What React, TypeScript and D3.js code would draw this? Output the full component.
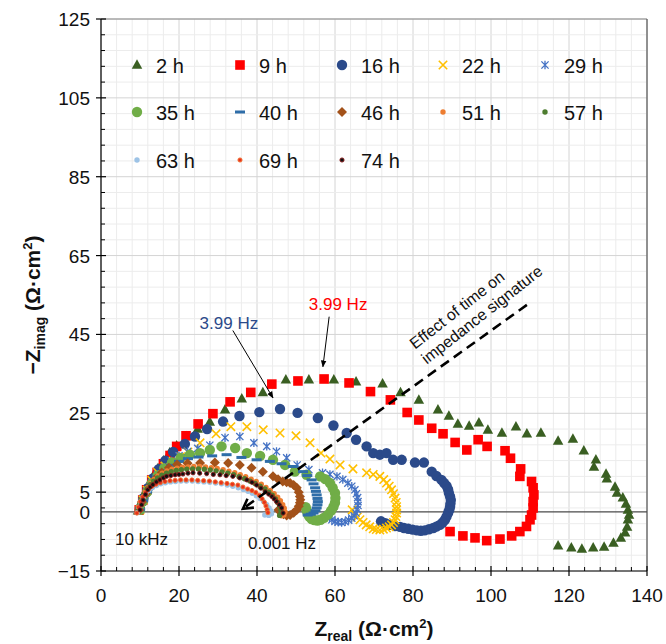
import React from "react";
import * as d3 from "d3";

type Pt = [number, number];

const xTickValues = [0, 20, 40, 60, 80, 100, 120, 140];
const yTickValues = [125, 105, 85, 65, 45, 25, 5, -15];
const yExtraTicks = [0];

const seriesNames = ["2 h", "9 h", "16 h", "22 h", "29 h", "35 h", "40 h", "46 h", "51 h", "57 h", "63 h", "69 h", "74 h"];
const seriesColors = ["#3A5F22", "#FF0000", "#2B4A8A", "#FFC000", "#4472C4", "#70AD47", "#2E6DA8", "#A3521A", "#ED7D31", "#4E7D30", "#9DC3E6", "#E8321A", "#111111"];
const seriesRings = ["", "", "", "", "", "", "", "", "", "", "", "#F07030", "#8B1A1A"];
const seriesShapes = ["triangle", "square", "circle", "cross", "star", "circle", "dash", "diamond", "dot", "dot", "dot", "ring", "ring"];

const s2h: Pt[] = [[9.5,0.3],[10.3,2.5],[11.2,4.8],[12.2,7],[13.3,9],[14.6,11],[16,13],[17.6,15],[19.4,16.8],[22,19.1],[24.8,21],[27.9,22.8],[31.8,25.9],[36.1,28.7],[41.5,30.3],[47.4,33.5],[53.3,33.5],[59.7,33.5],[65.4,33],[72.2,32.5],[76.8,30.3],[81.5,28.4],[86.4,25.9],[89.2,24.3],[91.5,22.3],[94.4,21.8],[96.9,22.6],[99.2,20.8],[102.8,20],[106.4,21.6],[109.2,19.8],[112.8,20],[117.2,18],[121,18.5],[123.8,15.5],[126.9,13.2],[126.4,11.4],[129.5,9.6],[129.7,8.4],[131.8,6.3],[132.3,4.8],[133.8,3.6],[134.6,2],[135.1,0.5],[135.4,-0.8],[135.1,-2],[134.9,-3.8],[134.4,-5.3],[133.3,-6.6],[131.4,-7.9],[129,-8.9],[126.2,-9.1],[123.3,-9.4],[120.6,-9.1],[117.2,-8.6]];
const s9h: Pt[] = [[9.8,0.5],[10.7,3],[11.7,5.6],[13,8.1],[14.4,10],[16,12.2],[17.7,14.3],[19.4,16.6],[21.8,19.3],[24.9,22.3],[28.7,24.9],[33.1,27.9],[38.4,30.3],[43.8,32.4],[50.5,33.2],[57.2,33.7],[63.6,32.7],[69.1,30.5],[74.2,28.4],[78.5,25.2],[81.5,23.3],[84.8,21.2],[87.7,19.8],[90.8,17.6],[93.8,15.7],[96.7,18.3],[99,16.6],[103.6,15.5],[105,13.6],[107.6,10.9],[107.4,9],[110.4,7.7],[110.8,6.1],[111,4.3],[110.8,2.6],[110.8,1],[110.4,-0.8],[110,-2],[109.1,-3.7],[107.4,-5],[105.3,-6.1],[102.3,-6.9],[98.9,-7.3],[95.9,-6.6],[92.8,-6.1],[89.5,-5]];
const s16h: Pt[] = [[10,0.8],[10.9,3.5],[12,6],[13.3,8.5],[14.8,10.8],[16.5,13],[18.5,15.2],[21.5,17.2],[24.1,19.1],[27.2,21],[31.3,22.9],[35.5,24.3],[40.6,25.3],[45.9,26.1],[50.4,25.1],[55.6,23.8],[59.6,21.9],[63,20],[65.4,18.3],[68.1,16.6],[69.8,14.9],[71.5,14.5],[73.2,14.9],[74.9,13.2],[77.1,13.2],[80.5,12.5],[82.8,12.5],[84.8,10.2],[86,9.1],[87.3,8.1],[88,7.3],[88.6,6.6],[89,5.7],[89.2,4.8],[89.5,3.9],[89.7,3],[89.6,2.1],[89.5,1.3],[89.3,0.5],[89,-0.3],[88.6,-1.2],[88.2,-2],[87.6,-2.7],[86.9,-3.3],[86.1,-3.7],[85.2,-4.1],[84.1,-4.4],[83,-4.7],[82,-4.8],[81,-4.7],[79.9,-4.5],[78.8,-4.3],[77.7,-4.1],[76.7,-3.8],[75.4,-3.6],[74.1,-3.3],[72.9,-2.9],[71.8,-2.4]];
const s22h: Pt[] = [[10,0.5],[10.8,3],[11.8,5.5],[13,8],[14.5,10],[16.4,11.6],[18.5,12.8],[20.4,14],[22.3,15.2],[25.4,17.5],[29.5,19.8],[33.3,21.6],[37.4,21.6],[41.6,20.8],[45.9,20],[50,19.3],[53.6,17.5],[56.4,14.9],[58.7,13.4],[61.3,11.9],[64.6,10.9],[68.1,9.9],[69.8,9.5],[71.5,9],[72.5,8.2],[73.2,7.3],[73.9,6.5],[74.5,5.6],[75,4.6],[75.4,3.5],[75.7,2.4],[75.8,1.3],[75.8,0.5],[75.8,-0.3],[75.6,-1.2],[75.4,-2],[75,-2.7],[74.5,-3.3],[73.9,-3.8],[73.2,-4.1],[72.4,-4.4],[71.5,-4.6],[70.6,-4.5],[69.8,-4.3],[68.9,-3.8],[68,-3.3],[67.2,-2.7],[66.4,-2],[65.7,-1.3],[65,-0.6],[64.4,0.5]];
const s29h: Pt[] = [[10,0.5],[10.8,2.8],[11.8,5.2],[13,7.4],[14.5,9.5],[16.2,11.3],[18,12.9],[20,14.2],[22.2,15.3],[24.8,16.1],[27.9,16.9],[31.8,18.8],[35.6,19.1],[39.2,17.5],[42.5,16.6],[45,15.3],[47.6,13.7],[50.3,11.9],[53.3,10.7],[56.8,9.9],[58.7,9.5],[60.5,9],[62,8.2],[63.3,7.3],[64.3,6.5],[65.1,5.6],[65.5,4.6],[65.8,3.6],[65.9,2.6],[65.9,1.6],[65.7,0.6],[65.4,-0.3],[64.9,-1],[64.3,-1.6],[63.5,-2.1],[62.6,-2.5],[61.7,-2.7],[60.8,-2.6],[60,-2.4],[59.2,-2],[58.6,-1.5],[58,-1]];
const s35h: Pt[] = [[10,0.5],[10.8,2.8],[11.8,5],[13,7.2],[14.5,9.2],[16.2,11],[18.2,12.5],[20.4,13.7],[22.8,14.5],[25.4,14.9],[27.9,15.7],[30.9,16.6],[34.4,16.2],[37.4,14.9],[40.8,14.2],[44.1,13.2],[47.2,11.9],[49.7,10.2],[52.7,9.4],[56.2,9],[57.5,8.3],[58.7,7.3],[59.4,6.1],[60,4.8],[60.1,3.5],[60,2.3],[59.6,1.3],[59,0.3],[58.2,-0.7],[57.2,-1.5],[56.3,-2],[55.5,-2.2],[54.7,-2.1],[54,-1.8],[53.4,-1.2],[53,-0.5],[52.7,0.4],[52.5,1.2]];
const s40h: Pt[] = [[10,0.5],[10.8,2.8],[11.8,5],[13,7],[14.5,8.9],[16.2,10.5],[18,11.8],[20,12.8],[22.3,13.5],[25,13.9],[28.5,14.2],[32.2,14.5],[36,13.8],[39.9,13.2],[43.3,12.8],[46.3,12.2],[49.2,11.5],[51.8,10.2],[52.9,9.2],[54,8.1],[54.5,7.1],[54.9,6.1],[55.1,5.2],[55.3,4.3],[55.5,3.4],[55.6,2.6],[55.5,1.8],[55.3,1],[55,0.3],[54.5,-0.3],[53.8,-0.6],[53,-0.8]];
const s46h: Pt[] = [[9.8,0.5],[10.5,2.5],[11.5,4.6],[12.7,6.6],[14,8.4],[15.6,10],[17.4,11.2],[19.5,12],[22.2,12.3],[25.4,12.4],[29.2,12.5],[32.6,12.4],[35.6,11.9],[38.6,11.2],[41.5,10.2],[44.1,9],[45.4,8.3],[46.6,7.7],[47.6,7.5],[48.5,7.3],[49.4,6.8],[50.2,6.1],[50.7,5],[51,3.9],[51.1,3.1],[51,2.3],[50.7,1.4],[50.2,0.5],[49.4,-0.2],[48.5,-0.8],[47.6,-0.9],[46.8,-0.6],[46.1,-0.1],[45.5,0.5]];
const s51h: Pt[] = [[9.7,0.5],[10.1,2],[10.6,3.5],[11.2,4.9],[11.9,6.1],[12.7,7.2],[13.6,8.2],[14.6,9.1],[15.7,9.8],[16.9,10.4],[18.2,10.8],[19.5,11.1],[20.9,11.3],[22.3,11.4],[23.8,11.5],[25.3,11.5],[26.8,11.4],[28.3,11.2],[29.8,11],[31.3,10.7],[32.8,10.3],[34.3,9.9],[35.7,9.4],[37.1,8.9],[38.5,8.3],[39.8,7.7],[41.1,7],[42.3,6.2],[43.4,5.4],[44.4,4.6],[45.3,3.7],[46,2.8],[46.6,1.8],[47,0.9],[47.2,0],[46.9,-0.8],[46.2,-1]];
const s57h: Pt[] = [[9.6,0.4],[10,1.9],[10.5,3.3],[11.1,4.6],[11.8,5.8],[12.6,6.9],[13.5,7.8],[14.5,8.6],[15.6,9.3],[16.8,9.8],[18,10.2],[19.3,10.5],[20.6,10.7],[22,10.8],[23.5,10.9],[25,10.9],[26.5,10.8],[28,10.6],[29.5,10.4],[31,10.1],[32.5,9.8],[34,9.4],[35.4,8.9],[36.8,8.4],[38.2,7.8],[39.5,7.2],[40.8,6.5],[42,5.8],[43,5],[43.9,4.2],[44.7,3.3],[45.3,2.4],[45.8,1.5],[46.1,0.6],[46.2,-0.3],[45.8,-0.9]];
const s63h: Pt[] = [[9.3,-0.2],[9.7,1.2],[10.2,2.5],[10.8,3.7],[11.5,4.7],[12.3,5.5],[13.2,6.2],[14.2,6.7],[15.3,7.1],[16.5,7.4],[17.8,7.6],[19.1,7.7],[20.5,7.8],[21.9,7.8],[23.4,7.8],[24.9,7.7],[26.4,7.6],[27.9,7.5],[29.4,7.3],[30.9,7.1],[32.4,6.8],[33.8,6.5],[35.2,6.1],[36.5,5.7],[37.7,5.2],[38.8,4.7],[39.8,4.1],[40.8,3.4],[41.7,2.6],[42.5,1.8],[43.1,1],[43.6,0.2],[43.7,-0.5],[43,-0.9],[42,-0.8]];
const s69h: Pt[] = [[9.2,-0.3],[9.6,1.2],[10.1,2.6],[10.7,3.8],[11.4,4.9],[12.2,5.8],[13.1,6.5],[14.1,7],[15.2,7.4],[16.4,7.7],[17.7,7.9],[19,8],[20.4,8.1],[21.8,8.1],[23.3,8.1],[24.8,8],[26.3,7.9],[27.8,7.8],[29.3,7.6],[30.8,7.4],[32.3,7.2],[33.7,7],[35.1,6.8],[36.4,6.3],[37.6,5.8],[38.7,5.4],[39.7,4.9],[40.6,4.2],[41.3,3.3],[41.9,2.4],[42.3,1.5],[42.6,0.6],[42.8,-0.2]];
const s74h: Pt[] = [[10,0.5],[10.4,1.8],[10.8,3],[11.4,4.4],[12,5.6],[12.6,6.3],[13.3,6.9],[14.2,7.6],[15.1,8.1],[16,8.6],[16.8,9],[17.9,9.2],[19,9.4],[20,9.5],[21,9.6],[22.3,9.8],[23.6,9.9],[25.3,9.8],[27.1,9.7],[28.8,9.5],[30.5,9.4],[32.1,9.2],[33.8,9],[35.6,8.6],[37.4,8.1],[38.7,7.5],[39.9,6.8],[41,6],[42.1,5.1],[43,4.5],[43.8,3.9],[44.4,3.3],[45,2.6],[45.7,1.8],[46.3,1],[46.7,-0.3]];

const seriesData: Pt[][] = [s2h, s9h, s16h, s22h, s29h, s35h, s40h, s46h, s51h, s57h, s63h, s69h, s74h];

// annotation anchors (data units)
const blueLabelPos: Pt = [32.8, 46.3];
const blueArrow: Pt[] = [[33.8, 46.0], [44.1, 28.9]];
const redLabelPos: Pt = [60.8, 51.2];
const redArrow: Pt[] = [[58.5, 49.5], [56.9, 36.8]];
const trendArrow: Pt[] = [[109.2, 52.5], [36.4, 0.8]];
const trendTextPos: Pt = [80.5, 41.1];
const trendTextLines = ["Effect of time on", "impedance signature"];
const freqLabels = [
  { text: "10 kHz", pos: [3.6, -8.5] as Pt },
  { text: "0.001 Hz", pos: [37.7, -9.3] as Pt },
];

const W = 666, H = 644;
const L = 101, R = 647, T = 19, B = 571;
const FONT = "'Liberation Sans', Arial, Helvetica, sans-serif";

function Marker({ shape, color, ring, cx, cy }: { shape: string; color: string; ring: string; cx: number; cy: number }) {
  switch (shape) {
    case "triangle": {
      const s = 10.5, h = 9.5;
      return <path d={`M${cx},${cy - h * 0.6}L${cx + s / 2},${cy + h * 0.4}L${cx - s / 2},${cy + h * 0.4}Z`} fill={color} />;
    }
    case "square":
      return <rect x={cx - 4.8} y={cy - 4.8} width={9.6} height={9.6} fill={color} />;
    case "circle":
      return <circle cx={cx} cy={cy} r={5.2} fill={color} />;
    case "cross":
      return <path d={`M${cx - 4.2},${cy - 4.2}L${cx + 4.2},${cy + 4.2}M${cx - 4.2},${cy + 4.2}L${cx + 4.2},${cy - 4.2}`} stroke={color} strokeWidth={1.6} fill="none" />;
    case "star":
      return <path d={`M${cx - 3.6},${cy - 3.6}L${cx + 3.6},${cy + 3.6}M${cx - 3.6},${cy + 3.6}L${cx + 3.6},${cy - 3.6}M${cx},${cy - 4.2}L${cx},${cy + 4.2}`} stroke={color} strokeWidth={1.3} fill="none" />;
    case "dash":
      return <rect x={cx - 5} y={cy - 1.5} width={10} height={3} fill={color} />;
    case "diamond":
      return <path d={`M${cx},${cy - 5}L${cx + 5},${cy}L${cx},${cy + 5}L${cx - 5},${cy}Z`} fill={color} />;
    case "dot":
      return <circle cx={cx} cy={cy} r={2.7} fill={color} />;
    case "ring":
      return <circle cx={cx} cy={cy} r={2.1} fill={color} stroke={ring} strokeWidth={0.9} />;
    default:
      return null;
  }
}

export default function App() {
  const x = d3.scaleLinear().domain([0, 140]).range([L, R]);
  const y = d3.scaleLinear().domain([-15, 125]).range([B, T]);

  const xMinor = d3.range(0, 140.001, 4);
  const yMinor = d3.range(-15, 125.001, 4);

  const legendCols = [137, 240, 342, 443, 545];
  const legendRows = [65, 112, 160];

  const [ta, tb] = trendArrow;
  const tx0 = x(ta[0]), ty0 = y(ta[1]), tx1 = x(tb[0]), ty1 = y(tb[1]);
  const ang = Math.atan2(ty1 - ty0, tx1 - tx0);
  const hl = 11, hw = Math.PI / 6;
  const head = `M${tx1 + hl * Math.cos(ang + Math.PI - hw)},${ty1 + hl * Math.sin(ang + Math.PI - hw)}L${tx1},${ty1}L${tx1 + hl * Math.cos(ang + Math.PI + hw)},${ty1 + hl * Math.sin(ang + Math.PI + hw)}`;

  const textAngle = -38;

  return (
    <svg width={W} height={H} style={{ position: "absolute", left: 0, top: 0, background: "#fff" }} fontFamily={FONT}>
      <defs>
        <marker id="ah" viewBox="0 0 10 10" refX="9" refY="5" markerWidth="7" markerHeight="7" orient="auto" markerUnits="userSpaceOnUse">
          <path d="M0,1L10,5L0,9Z" fill="#000" />
        </marker>
      </defs>
      <g>
        {xMinor.map((v) => (
          <line key={"gx" + v} x1={x(v)} x2={x(v)} y1={T} y2={B} stroke={v % 20 === 0 ? "#d4d4d4" : "#ececec"} strokeWidth={1} />
        ))}
        {yMinor.map((v) => (
          <line key={"gy" + v} x1={L} x2={R} y1={y(v)} y2={y(v)} stroke={(v + 15) % 20 === 0 ? "#d4d4d4" : "#ececec"} strokeWidth={1} />
        ))}
      </g>
      <line x1={L} x2={R} y1={T} y2={T} stroke="#8a8a8a" strokeWidth={1.2} />
      <line x1={R} x2={R} y1={T} y2={B} stroke="#555" strokeWidth={1.2} />
      <line x1={x(0)} x2={x(140)} y1={y(0)} y2={y(0)} stroke="#4a4a4a" strokeWidth={1.2} />
      <line x1={L} x2={L} y1={T} y2={B} stroke="#000" strokeWidth={1.2} />
      <line x1={L} x2={R} y1={B} y2={B} stroke="#000" strokeWidth={1.2} />
      {xMinor.map((v) =>
        v % 20 === 0 ? (
          <line key={"tx" + v} x1={x(v)} x2={x(v)} y1={B - 5} y2={B + 5} stroke="#000" strokeWidth={1.2} />
        ) : (
          <line key={"tx" + v} x1={x(v)} x2={x(v)} y1={B - 4} y2={B} stroke="#000" strokeWidth={1} />
        )
      )}
      {yMinor.map((v) =>
        (v + 15) % 20 === 0 ? (
          <line key={"ty" + v} x1={L - 5} x2={L + 5} y1={y(v)} y2={y(v)} stroke="#000" strokeWidth={1.2} />
        ) : (
          <line key={"ty" + v} x1={L} x2={L + 4} y1={y(v)} y2={y(v)} stroke="#000" strokeWidth={1} />
        )
      )}
      {xTickValues.map((v) => (
        <text key={"lx" + v} x={x(v)} y={B + 31} fontSize={19} textAnchor="middle" fill="#111">{v}</text>
      ))}
      {[...yTickValues, ...yExtraTicks].map((v) => (
        <text key={"ly" + v} x={L - 11} y={y(v) + 7} fontSize={19} textAnchor="end" fill="#111">{v < 0 ? "\u2212" + Math.abs(v) : v}</text>
      ))}
      <text x={(L + R) / 2} y={636} fontSize={21} fontWeight="bold" textAnchor="middle" fill="#111">
        Z<tspan fontSize={14} dy={5}>real</tspan>
        <tspan dy={-5}> (Ω·cm</tspan>
        <tspan fontSize={13} dy={-8}>2</tspan>
        <tspan dy={8}>)</tspan>
      </text>
      <text transform={`translate(40,305) rotate(-90)`} fontSize={21} fontWeight="bold" textAnchor="middle" fill="#111">
        {"\u2212Z"}<tspan fontSize={14} dy={5}>imag</tspan>
        <tspan dy={-5}> (Ω·cm</tspan>
        <tspan fontSize={13} dy={-8}>2</tspan>
        <tspan dy={8}>)</tspan>
      </text>
      {seriesData.map((pts, i) => (
        <g key={"s" + i}>
          {pts.map((p, j) => (
            <Marker key={j} shape={seriesShapes[i]} color={seriesColors[i]} ring={seriesRings[i]} cx={x(p[0])} cy={y(p[1])} />
          ))}
        </g>
      ))}
      {seriesNames.map((name, i) => {
        const cx = legendCols[i % 5];
        const cy = legendRows[Math.floor(i / 5)];
        return (
          <g key={"lg" + i}>
            <Marker shape={seriesShapes[i]} color={seriesColors[i]} ring={seriesRings[i]} cx={cx} cy={cy} />
            <text x={cx + 19} y={cy + 7.5} fontSize={20} fill="#111">{name}</text>
          </g>
        );
      })}
      <text x={x(blueLabelPos[0])} y={y(blueLabelPos[1])} fontSize={17} textAnchor="middle" fill="#2B4A8A">3.99 Hz</text>
      <line x1={x(blueArrow[0][0])} y1={y(blueArrow[0][1])} x2={x(blueArrow[1][0])} y2={y(blueArrow[1][1])} stroke="#000" strokeWidth={1} markerEnd="url(#ah)" />
      <text x={x(redLabelPos[0])} y={y(redLabelPos[1])} fontSize={17} textAnchor="middle" fill="#FF0000">3.99 Hz</text>
      <line x1={x(redArrow[0][0])} y1={y(redArrow[0][1])} x2={x(redArrow[1][0])} y2={y(redArrow[1][1])} stroke="#000" strokeWidth={1} markerEnd="url(#ah)" />
      <line x1={tx0} y1={ty0} x2={tx1} y2={ty1} stroke="#000" strokeWidth={2.6} strokeDasharray="10,6" />
      <path d={head} stroke="#000" strokeWidth={2.6} fill="none" />
      <text transform={`translate(${x(trendTextPos[0])},${y(trendTextPos[1])}) rotate(${textAngle})`} fontSize={16} fill="#111">
        {trendTextLines.map((t, i) => (
          <tspan key={i} x={0} dy={i === 0 ? 0 : 19}>{t}</tspan>
        ))}
      </text>
      {freqLabels.map((f) => (
        <text key={f.text} x={x(f.pos[0])} y={y(f.pos[1])} fontSize={17} fill="#111">{f.text}</text>
      ))}
    </svg>
  );
}
